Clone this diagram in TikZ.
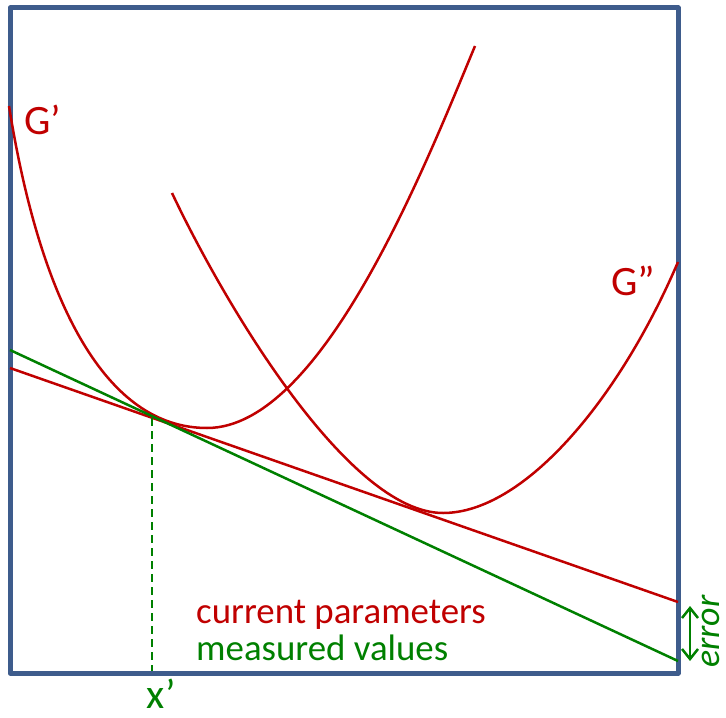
\documentclass[tikz,border=0pt]{standalone}
\usepackage{fontspec}
\setmainfont{Carlito}
\usetikzlibrary{arrows.meta,positioning}
\definecolor{frameblue}{RGB}{62,92,140}
\definecolor{curvered}{RGB}{192,0,0}
\definecolor{measgreen}{RGB}{0,128,0}
\tikzset{
  curve/.style={curvered, line width=2.5bp},
  fitline/.style={line width=2.5bp},
  lbl/.style={inner sep=0pt, anchor=base west},
  biglbl/.style={lbl, font=\fontsize{42}{42}\selectfont},
  legend/.style={lbl, font=\fontsize{37}{37}\selectfont},
}

\begin{document}
\begin{tikzpicture}[x=1bp, y=-1bp]
        \useasboundingbox (0,0) rectangle (726,718);
        % Frame
        \draw[frameblue, line width=5bp, line join=round] (10,8) rectangle (678,673);
        % Model curve G'
        \draw[curve] (9,106) .. controls (41,306) and (107,428) .. (207,428)
          .. controls (322,428) and (425,166) .. (475,46);
        \node[biglbl, curvered] (gone) at (24,135) {G’};
        % Model curve G''
        \draw[curve] (172,193) .. controls (224,303) and (348,513) .. (443,513)
          .. controls (523,513) and (618,402) .. (678,262);
        \node[biglbl, curvered] (gtwo) at (611,295) {G”};
        % Tangent lines
        \coordinate (redL) at (10,368);
        \coordinate (redR) at (678,602);
        \coordinate (grnL) at (10,350);
        \coordinate (grnR) at (678,661);
        \draw[curvered, fitline] (redL) -- (redR);
        \draw[measgreen, fitline] (grnL) -- (grnR);
        % Touching point x'
        \coordinate (touch) at (152,418);
        \coordinate (xfoot) at (152,671);
        \draw[measgreen, line width=2bp, dash pattern=on 8bp off 5bp] (touch) -- (xfoot);
        \node[biglbl, measgreen] (xlab) at (146,708) {x’};
        % Error between the two lines
        \coordinate (errtop) at (690,606);
        \coordinate (errbot) at (690,661);
        \draw[measgreen, line width=2.5bp,
          {Straight Barb[length=10bp,width=16bp]}-{Straight Barb[length=10bp,width=16bp]}]
          (errtop) -- (errbot);
        \node[lbl, measgreen, rotate=90, font=\fontsize{36}{36}\selectfont\itshape]
          (errlab) at (719,668) {error};
        % Legend
        \node[legend, curvered] (curlab) at (196,623) {current parameters};
        \node[legend, measgreen] (meslab) at (196,660) {measured values};
\end{tikzpicture}
\end{document}
